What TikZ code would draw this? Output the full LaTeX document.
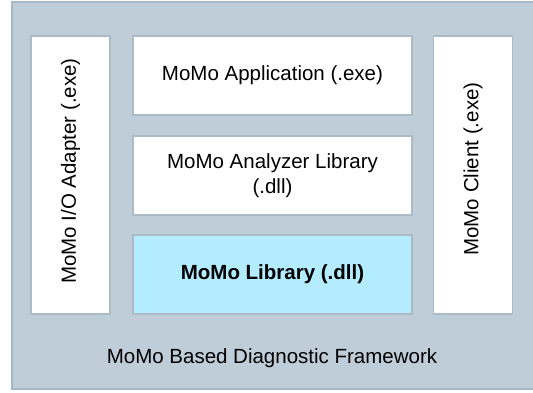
\documentclass[tikz,border=0pt]{standalone}
\usepackage{fontspec}
\setmainfont{Liberation Sans}
\usetikzlibrary{positioning}
\definecolor{frameblue}{RGB}{191,205,216}
\definecolor{frameline}{RGB}{168,184,197}
\definecolor{boxline}{RGB}{172,186,198}
\definecolor{libcyan}{RGB}{179,236,255}
\begin{document}
\begin{tikzpicture}[
  x=1pt, y=-1pt,
  frame/.style={draw=frameline, fill=frameblue, line width=1.2pt,
                minimum width=540pt, minimum height=387pt, inner sep=0pt},
  box/.style={draw=boxline, fill=white, line width=1.2pt, inner sep=0pt,
              minimum width=279pt, minimum height=79pt,
              align=center, font=\fontsize{20.5}{24.5}\selectfont},
  side/.style={box, minimum width=79pt, minimum height=278pt},
  every node/.style={font=\fontsize{20.5}{24.5}\selectfont}
]
  \useasboundingbox (0,0) rectangle (533,392);
  \node[frame]                 (frame)    at (282,195.5) {};
  \node[side]                  (adapter)  at (70.5,175) {};
  \node[side]                  (client)   at (473,175)  {};
  \node[box]                   (app)      at (272.5,75.5)  {MoMo Application (.exe)};
  \node[box]                   (analyzer) at (272.5,175.5) {MoMo Analyzer Library\\(.dll)};
  \node[box, fill=libcyan, font=\fontsize{20.5}{24.5}\selectfont\bfseries]
                               (lib)      at (272.5,274.5) {MoMo Library (.dll)};
  \node[rotate=90] (adaptertxt) at (70.5,171) {MoMo I/O Adapter (.exe)};
  \node[rotate=90] (clienttxt)  at (473,169)  {MoMo Client (.exe)};
  \node (fwlabel) at (272,358) {MoMo Based Diagnostic Framework};
\end{tikzpicture}
\end{document}
